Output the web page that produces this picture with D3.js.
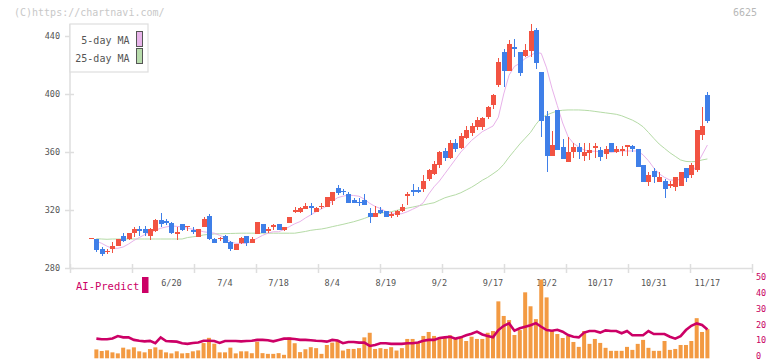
<!DOCTYPE html>
<html><head><meta charset="utf-8">
<script src="https://cdn.jsdelivr.net/npm/d3@7"></script>
<style>
html,body{margin:0;padding:0;background:#fff;}
svg{display:block;}
text{font-family:"DejaVu Sans Mono","Liberation Mono",monospace;}
</style></head>
<body><svg id="chart" width="772" height="361"></svg>
<script>
// ---- data ----
const dates = ["5/30","6/2","6/3","6/4","6/5","6/6","6/9","6/10","6/11","6/12","6/13","6/16","6/17","6/18","6/19","6/20","6/23","6/24","6/25","6/26","6/27","6/30","7/1","7/2","7/3","7/4","7/7","7/8","7/9","7/10","7/11","7/14","7/15","7/16","7/17","7/18","7/22","7/23","7/24","7/25","7/28","7/29","7/30","7/31","8/1","8/4","8/5","8/6","8/7","8/8","8/12","8/13","8/14","8/15","8/18","8/19","8/20","8/21","8/22","8/25","8/26","8/27","8/28","8/29","9/1","9/2","9/3","9/4","9/5","9/8","9/9","9/10","9/11","9/12","9/16","9/17","9/18","9/19","9/22","9/24","9/25","9/26","9/29","9/30","10/1","10/2","10/3","10/6","10/7","10/8","10/9","10/10","10/14","10/15","10/16","10/17","10/20","10/21","10/22","10/23","10/24","10/27","10/28","10/29","10/30","10/31","11/4","11/5","11/6","11/7","11/10","11/11","11/12","11/13","11/14","11/17"];

const openP  = [300.5,300,293.1,291.5,293,295.4,302.1,299.8,304.3,306.7,306.7,302.3,305.7,313.1,312.4,310.8,303.7,310.3,308.2,306.2,301.6,308.5,316.1,300,300.3,302,297.9,292.4,297,302,297.5,303.7,310.3,305.7,308,310.3,306.2,310.8,318.5,318.8,320.9,322.8,318.8,321.8,321.8,326.4,335,333.1,331,326.9,325.7,326.9,318.1,315.4,320,319.3,315.9,316.6,319.3,330.3,333.8,333.8,334.5,341.4,345,351,361,356,366,363,370,373,377,377,383.9,392.4,406.2,429,416.1,432.2,429,426.4,429.9,444.1,415.2,384.8,357.2,389,363.7,353.3,359.8,363.4,357.4,359.1,363.7,361.4,358.8,366.2,359.8,360.7,364.4,364.1,362.1,351,339.5,347.1,339.5,340,336.6,335.7,336.6,349,344.1,347.6,371.7,399.3];
const closeP = [300.6,292.4,289.9,292,295.2,299.8,298.6,304.3,306.9,305.5,304.3,306.7,313.1,310.3,310.8,304.3,304.8,306.2,309,304.6,306.7,313.8,300,297.5,300.7,297.5,293.3,296.3,300.9,297.5,300,311.5,304.3,306.7,309.4,306.2,308,315.4,320,321.2,322.8,321.2,321.2,322.8,328.8,332.2,332,332.4,324.6,324.6,324.6,323.7,315.4,318.1,317.7,315.4,317.2,319.3,322.3,330.8,332.6,332.6,340,347.6,352,360,356,366,362,371,375,378,382,383.7,390.8,399.3,422.3,416.1,434.5,430.8,414.7,430.3,443.4,421.6,381.6,357.2,364.8,361.4,355.2,360.2,363.2,359.8,359.8,361.4,363.9,356.8,362,359.8,362,362.1,364.6,361.9,349.9,339.5,344.1,342.6,342.6,334.5,337.7,342.6,346.2,342.3,351,375.2,377.9,381.6];
const highP  = [300.6,300,294.7,293,297.7,300,303.9,304.3,308.5,309,309,307.4,313.5,317.7,313.5,311.5,308.5,310.3,309,308,306.7,315.4,317.2,300.5,301.5,302.5,298.6,296.3,301.6,302.3,301.2,311.5,310.5,308.5,310.3,310.3,308.5,315.4,321.8,322.3,324.6,324.6,321.8,324.6,328.8,332.2,337.2,334.5,332.2,328.1,328.1,331,321.2,322.8,321.8,319.3,318.5,320,324.1,332.2,337.9,335.9,344.1,348,354,361,363,368,369,373,378,380,384,384.3,392,400,424.6,430.8,437.2,437.7,429,434.5,448.3,445.3,415.2,388.5,374.5,389,368.8,370.6,366,366,366,366,366,363.7,364.1,366.2,364,364,364.6,364.6,362.1,351,346.4,348.8,346.4,341.4,340,343,346.2,349,352.6,375.2,391.2,401.2];
const lowP   = [300.5,291.2,288.5,290,290.6,295.4,297.7,299.3,301.6,302,302,299.3,305,308.5,309.5,303.7,299.3,305.5,305.5,303.7,301.6,308,299.3,297.2,298.8,297.5,292,292.4,296.6,295,297.2,303.7,304.3,304.1,306.2,306.2,305.7,310.8,317.7,317.9,320.5,316.6,318.8,320.9,321.8,323.4,330.3,330.3,324.6,324.6,322.8,323.7,311.2,315.4,317.2,315.4,314.5,315.4,318.8,323.4,329.7,331.7,332.6,340,344,349,354,355,360,362,369,371,375,375.2,383,390,405,405,416.1,425.7,412.6,425.7,425.7,417,370.1,346.4,357.2,361.4,355.2,353.3,356,355.5,354,354.5,356,353.5,355,359.8,359.5,357.5,357.2,359.8,349.9,339.5,336.6,338.8,339.5,328.5,335.2,333.3,336.6,339,342,346.4,368.3,379.8];

const ma5  = [null,298.5,297,295,293.6,293.6,294.5,296.5,299,301,303,304.5,306,307.4,308.3,309,308.7,308.3,307.5,306.7,306,305,304.5,304,302.5,301,298,297,297,297,298.5,300.5,302.5,304,305,305,306.5,308.5,310.5,312,314.5,316.6,318.8,320.8,322.8,326,328.5,329.5,330.3,330,329.5,327.5,324.6,322.5,321,319,318,317.2,317.5,318.8,320.5,322.3,325,331,336,340,345,350,355,360,364,368,371,374,376,377.9,384,400,413,419,421.2,424.5,426.5,428.8,428,418,404,392,380,370.6,366,363.5,361.4,360.5,360.5,360.2,360,359.8,360.2,360.7,360.7,360.7,360.7,358,354,349,345,342.5,340.7,340.5,341.2,342.5,345,351,357.9,364.8];
const ma25 = [null,300.2,300,299.8,300,300,300,300,300,300,300,300,300,300,300,300,300,300,301,301.5,302,302.8,303.2,303.5,303.6,303.7,303.8,303.9,304,304,304,304,304,304,304,304,304,304,304,304.6,305.2,306,306.5,306.9,307.6,308.5,309.3,310.1,311,311.9,313,314.2,315.6,317,317.7,318.4,318.8,319.7,320.5,321.3,322,322.8,323.5,324.3,325,326.7,328.4,329.5,330.5,331.9,333.8,335.7,338,340.5,342.5,345,347.6,351.5,356.5,361,365.5,369.5,373.5,379,383.5,385.5,387,388.3,388.8,389,389,389,388.8,388.5,388,387.5,387,386.5,386,385,383.5,382,380,377.4,373.5,369.4,365.5,362.5,359.5,357,354.5,353.5,353.3,353.5,354.5,355.2];

const volume = [null,5.6,4.6,5,3.75,3.1,6.7,5.6,6.9,4.4,3.75,5.8,6.9,5.4,3.75,3.1,4.4,3.1,3.3,4.4,5,9.6,12.9,9.2,3.75,3.75,6.7,3.1,4.4,4.4,3.2,10.5,3.25,2.8,2.8,3.25,2.2,13.2,9.5,3.9,5.7,7,6.4,2.8,8.4,9.9,11.6,4.9,5.9,5.9,6.4,13.2,16.1,5.9,6.4,5.9,7,4.9,6.4,12.2,12.2,9.9,14.1,16.6,14.1,12.2,13.2,14.5,12.2,13.2,10.9,13.6,12.2,12.2,16.1,17.2,35.9,26.7,24.1,14.7,17.8,41.6,32.8,24.7,49.7,38.4,17.8,15.3,12.8,14.1,10.3,7.2,17.2,9.1,12.2,9.7,6.6,4.7,4.7,4.7,7.2,5.3,9.1,11.6,6.6,4.7,4.7,10.9,5.3,5.9,8.4,8.4,10.9,25.3,16.6,18.4];
const aiPredict = [null,12.4,12,12,12.5,14,13.2,13.2,11.6,11.1,10.7,11,9.5,13.2,10.9,10.7,10.5,9.5,9.1,9.7,10,11.1,11.1,10.9,9.7,10.9,10.9,10.9,10.7,10.9,11.1,11.6,11.6,11.4,10.7,11.6,12.4,12.4,12.2,11.6,11.6,11.4,11.1,10.9,10.5,11.6,11.2,9.5,10.3,10.3,9.9,9.9,7.8,8.4,9.5,9.5,9.1,9.1,9.1,9.5,9.5,10,11.1,11.6,11.6,12.8,13.2,13.6,12.4,13.2,14.5,15.5,16.8,15,14.1,13.2,17.8,20.5,22,17.4,18.9,19.9,20.9,22.2,19.9,17.8,17.4,18,16.8,14.7,13.6,13.2,16.2,17.2,17.2,16.2,17.6,17.2,17.2,15.8,17.2,14.5,14.5,14.5,17.2,15.3,15.3,15.3,13.6,12.4,14,17.8,20.5,22,21,18.2];

const dateTickLabels = ["6/20","7/4","7/18","8/4","8/19","9/2","9/17","10/2","10/17","10/31","11/17"];
const priceTicks = [280,320,360,400,440];
const volumeTicks = [0,10,20,30,40,50];
const legendLabels = ["5-day MA","25-day MA"];

// ---- scales ----
const svg = d3.select("#chart");
const idx = d3.range(dates.length);
const x = d3.scaleLinear().domain([-3.92, 123.32]).range([70, 752]);
const y = d3.scaleLinear().domain([280, 440]).range([268, 36]);
const yv = d3.scaleLinear().domain([0, 50]).range([358.3, 279]);

const UP = "#f25342", DOWN = "#3f7fe8";
const AXIS = "#dedede";

// watermark & code
svg.append("text").attr("x", 14).attr("y", 16).attr("font-size", 10).attr("fill", "#c8c8c8").text("(C)https://chartnavi.com/");
svg.append("text").attr("x", 757).attr("y", 16).attr("font-size", 10).attr("fill", "#b8b8b8").attr("text-anchor", "end").text("6625");

// y axis (left)
const yAxis = d3.axisLeft(y).tickValues(priceTicks).tickSize(5).tickSizeOuter(0).tickPadding(5).tickFormat(d3.format("d"));
const gy = svg.append("g").attr("transform", "translate(70,0)").call(yAxis);
gy.select(".domain").remove();
gy.selectAll(".tick line").attr("stroke", AXIS).attr("stroke-width", 1.5).attr("x2", -5).attr("x1", 4);
gy.selectAll(".tick text").attr("font-size", 8.5).attr("fill", "#555").attr("font-family", "DejaVu Sans Mono, monospace").attr("dy", "0.35em");
svg.append("line").attr("x1", 70).attr("x2", 70).attr("y1", 24).attr("y2", 268).attr("stroke", AXIS).attr("stroke-width", 1.5);

// x axis line + gridline ticks
const xTickVals = d3.range(12).map(k => x.domain()[0] + k * (x.domain()[1] - x.domain()[0]) / 11);
const xAxis = d3.axisBottom(x).tickValues(xTickVals).tickSize(5).tickSizeOuter(0).tickFormat("");
const gx = svg.append("g").attr("transform", "translate(0,268)").call(xAxis);
gx.select(".domain").attr("stroke", AXIS).attr("stroke-width", 1.5);
gx.selectAll(".tick line").attr("stroke", AXIS).attr("stroke-width", 1.5).attr("y1", -4).attr("y2", 5);

// date labels
svg.append("g").selectAll("text").data(dateTickLabels).join("text")
  .attr("x", d => x(dates.indexOf(d)))
  .attr("y", 285.5).attr("text-anchor", "middle").attr("font-size", 8.5).attr("fill", "#555")
  .text(d => d);

// volume bars
svg.append("g").selectAll("rect").data(idx.filter(i => volume[i] != null)).join("rect")
  .attr("x", i => x(i) - 2).attr("width", 4)
  .attr("y", i => yv(volume[i])).attr("height", i => yv(0) - yv(volume[i]))
  .attr("fill", "#f39a42");

// AI predict line
svg.append("path").datum(idx).attr("fill", "none").attr("stroke", "#cc0066").attr("stroke-width", 2.6)
  .attr("d", d3.line().defined(i => aiPredict[i] != null).x(i => x(i)).y(i => yv(aiPredict[i])));

// right axis labels
svg.append("g").selectAll("text").data(volumeTicks).join("text")
  .attr("x", 756).attr("y", d => yv(d) - 1.8).attr("dy", "0.33em").attr("font-size", 8.5).attr("fill", "#c8005f")
  .text(d => d);

// AI-Predict legend
svg.append("text").attr("x", 76).attr("y", 290).attr("font-size", 10.5).attr("fill", "#cc0066").text("AI-Predict");
svg.append("rect").attr("x", 142).attr("y", 277).attr("width", 6.5).attr("height", 16).attr("fill", "#cc0066");

// moving averages
const maLine = arr => d3.line().defined(i => arr[i] != null).x(i => x(i)).y(i => y(arr[i]));
svg.append("path").datum(idx).attr("fill", "none").attr("stroke", "#b5dba6").attr("stroke-width", 1).attr("d", maLine(ma25));
svg.append("path").datum(idx).attr("fill", "none").attr("stroke", "#e8b2ea").attr("stroke-width", 1).attr("d", maLine(ma5));

// candles
const cg = svg.append("g").attr("shape-rendering", "crispEdges");
const col = i => closeP[i] >= openP[i] ? UP : DOWN;
cg.selectAll("line").data(idx).join("line")
  .attr("x1", i => Math.round(x(i)) + 0.5).attr("x2", i => Math.round(x(i)) + 0.5)
  .attr("y1", i => y(highP[i])).attr("y2", i => y(lowP[i]))
  .attr("stroke", col).attr("stroke-width", 1);
cg.selectAll("rect").data(idx).join("rect")
  .attr("x", i => Math.round(x(i)) - 2).attr("width", 5)
  .attr("y", i => y(Math.max(openP[i], closeP[i])))
  .attr("height", i => Math.max(1.2, Math.abs(y(openP[i]) - y(closeP[i]))))
  .attr("fill", col);

// legend box
const lg = svg.append("g");
lg.append("rect").attr("x", 70).attr("y", 24).attr("width", 78).attr("height", 48).attr("fill", "#fff").attr("stroke", AXIS).attr("stroke-width", 1.2);
lg.selectAll("text").data(legendLabels).join("text")
  .attr("x", 129.5).attr("y", (d, k) => 44 + k * 17.5).attr("text-anchor", "end").attr("font-size", 10).attr("fill", "#555").text(d => d);
lg.selectAll("rect.sw").data(["#e8b4ea", "#b8dcac"]).join("rect").attr("class", "sw")
  .attr("x", 136.5).attr("y", (d, k) => 31.5 + k * 17).attr("width", 6).attr("height", 15)
  .attr("fill", d => d).attr("stroke", "#555").attr("stroke-width", 1);
</script></body></html>
